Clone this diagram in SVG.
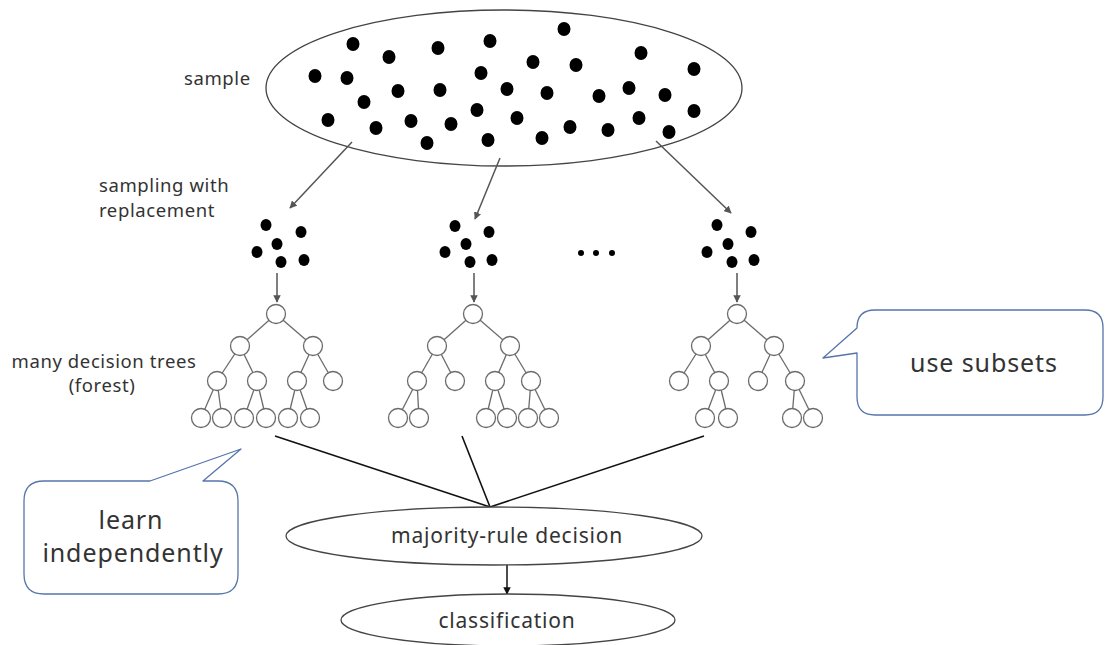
<svg xmlns="http://www.w3.org/2000/svg" width="1105" height="645" viewBox="0 0 1105 645">
  <style>
    .lbl { font-family: "Noto Sans", "Liberation Sans", sans-serif; fill: #333; }
    .side { font-size: 18.5px; letter-spacing: 0.6px; }
    .oval-t { font-size: 21px; letter-spacing: 0.8px; }
    .call-t { font-size: 25px; letter-spacing: 0.9px; }
    .dot { fill: #000; }
    .tn { fill: #fff; stroke: #6b6b6b; stroke-width: 1.3; }
    .te { stroke: #6b6b6b; stroke-width: 1.3; }
    .oval { fill: #fff; stroke: #444; stroke-width: 1.3; }
    .call { fill: #fff; stroke: #5675ab; stroke-width: 1.3; stroke-linejoin: round; }
    .garrow { stroke: #555; stroke-width: 1.5; fill: none; marker-end: url(#headG); }
    .karrow { stroke: #111; stroke-width: 1.5; fill: none; marker-end: url(#headK); }
    .vote { stroke: #111; stroke-width: 1.6; }
  </style>
  <defs>
    <marker id="headG" viewBox="0 0 10 10" refX="9" refY="5" markerWidth="5" markerHeight="5" orient="auto" markerUnits="strokeWidth">
      <path d="M0,0 L10,5 L0,10 z" fill="#555"/>
    </marker>
    <marker id="headK" viewBox="0 0 10 10" refX="9" refY="5" markerWidth="5" markerHeight="5" orient="auto" markerUnits="strokeWidth">
      <path d="M0,0 L10,5 L0,10 z" fill="#111"/>
    </marker>
  </defs>
  <rect width="1105" height="645" fill="#fff"/>

  <!-- full sample -->
  <g id="sample">
    <ellipse class="oval" cx="504" cy="88" rx="238" ry="78"/>
    <g class="dot">
      <ellipse cx="353" cy="44" rx="6.5" ry="7"/>
      <ellipse cx="389" cy="57" rx="6.5" ry="7"/>
      <ellipse cx="438" cy="48" rx="6.5" ry="7"/>
      <ellipse cx="490" cy="41" rx="6.5" ry="7"/>
      <ellipse cx="564" cy="29" rx="6.5" ry="7"/>
      <ellipse cx="641" cy="53" rx="6.5" ry="7"/>
      <ellipse cx="533" cy="62" rx="6.5" ry="7"/>
      <ellipse cx="576" cy="65" rx="6.5" ry="7"/>
      <ellipse cx="694" cy="69" rx="6.5" ry="7"/>
      <ellipse cx="315" cy="76" rx="6.5" ry="7"/>
      <ellipse cx="347" cy="78" rx="6.5" ry="7"/>
      <ellipse cx="481" cy="73" rx="6.5" ry="7"/>
      <ellipse cx="398" cy="91" rx="6.5" ry="7"/>
      <ellipse cx="440" cy="90" rx="6.5" ry="7"/>
      <ellipse cx="507" cy="89" rx="6.5" ry="7"/>
      <ellipse cx="547" cy="93" rx="6.5" ry="7"/>
      <ellipse cx="599" cy="96" rx="6.5" ry="7"/>
      <ellipse cx="629" cy="88" rx="6.5" ry="7"/>
      <ellipse cx="665" cy="95" rx="6.5" ry="7"/>
      <ellipse cx="364" cy="102" rx="6.5" ry="7"/>
      <ellipse cx="477" cy="110" rx="6.5" ry="7"/>
      <ellipse cx="694" cy="111" rx="6.5" ry="7"/>
      <ellipse cx="328" cy="120" rx="6.5" ry="7"/>
      <ellipse cx="376" cy="128" rx="6.5" ry="7"/>
      <ellipse cx="411" cy="121" rx="6.5" ry="7"/>
      <ellipse cx="451" cy="124" rx="6.5" ry="7"/>
      <ellipse cx="517" cy="118" rx="6.5" ry="7"/>
      <ellipse cx="570" cy="127" rx="6.5" ry="7"/>
      <ellipse cx="608" cy="130" rx="6.5" ry="7"/>
      <ellipse cx="639" cy="118" rx="6.5" ry="7"/>
      <ellipse cx="669" cy="132" rx="6.5" ry="7"/>
      <ellipse cx="427" cy="143" rx="6.5" ry="7"/>
      <ellipse cx="488" cy="140" rx="6.5" ry="7"/>
      <ellipse cx="542" cy="138" rx="6.5" ry="7"/>
    </g>
  </g>

  <!-- bootstrap subsets -->
  <g id="subset1" class="dot">
    <ellipse cx="266" cy="225" rx="5.5" ry="6"/>
    <ellipse cx="301" cy="232" rx="5.5" ry="6"/>
    <ellipse cx="277" cy="244" rx="5.5" ry="6"/>
    <ellipse cx="257" cy="252" rx="5.5" ry="6"/>
    <ellipse cx="281" cy="262" rx="5.5" ry="6"/>
    <ellipse cx="304" cy="260" rx="5.5" ry="6"/>
  </g>
  <g id="subset2" class="dot">
    <ellipse cx="455" cy="226" rx="5.5" ry="6"/>
    <ellipse cx="489" cy="232" rx="5.5" ry="6"/>
    <ellipse cx="466" cy="244" rx="5.5" ry="6"/>
    <ellipse cx="445" cy="252" rx="5.5" ry="6"/>
    <ellipse cx="470" cy="262" rx="5.5" ry="6"/>
    <ellipse cx="492" cy="260" rx="5.5" ry="6"/>
  </g>
  <g id="ellipsis" class="dot">
    <circle cx="581" cy="253" r="3"/>
    <circle cx="596" cy="253" r="3"/>
    <circle cx="612" cy="253" r="3"/>
  </g>
  <g id="subset3" class="dot">
    <ellipse cx="717" cy="225" rx="5.5" ry="6"/>
    <ellipse cx="751" cy="232" rx="5.5" ry="6"/>
    <ellipse cx="728" cy="244" rx="5.5" ry="6"/>
    <ellipse cx="707" cy="252" rx="5.5" ry="6"/>
    <ellipse cx="732" cy="262" rx="5.5" ry="6"/>
    <ellipse cx="754" cy="260" rx="5.5" ry="6"/>
  </g>

  <!-- decision trees -->
  <g id="tree1">
    <g class="te">
      <line x1="276" y1="314" x2="240" y2="346"/><line x1="276" y1="314" x2="313" y2="346"/>
      <line x1="240" y1="346" x2="217" y2="381"/><line x1="240" y1="346" x2="257" y2="381"/>
      <line x1="313" y1="346" x2="297" y2="381"/><line x1="313" y1="346" x2="333" y2="381"/>
      <line x1="217" y1="381" x2="201" y2="418"/><line x1="217" y1="381" x2="222" y2="418"/>
      <line x1="257" y1="381" x2="244" y2="418"/><line x1="257" y1="381" x2="266" y2="418"/>
      <line x1="297" y1="381" x2="288" y2="418"/><line x1="297" y1="381" x2="310" y2="418"/>
    </g>
    <g class="tn">
      <circle cx="276" cy="314" r="9.5"/>
      <circle cx="240" cy="346" r="9.5"/><circle cx="313" cy="346" r="9.5"/>
      <circle cx="217" cy="381" r="9.5"/><circle cx="257" cy="381" r="9.5"/><circle cx="297" cy="381" r="9.5"/><circle cx="333" cy="381" r="9.5"/>
      <circle cx="201" cy="418" r="9.5"/><circle cx="222" cy="418" r="9.5"/><circle cx="244" cy="418" r="9.5"/><circle cx="266" cy="418" r="9.5"/><circle cx="288" cy="418" r="9.5"/><circle cx="310" cy="418" r="9.5"/>
    </g>
  </g>
  <g id="tree2">
    <g class="te">
      <line x1="473" y1="314" x2="437" y2="346"/><line x1="473" y1="314" x2="510" y2="346"/>
      <line x1="437" y1="346" x2="417" y2="381"/><line x1="437" y1="346" x2="455" y2="381"/>
      <line x1="510" y1="346" x2="495" y2="381"/><line x1="510" y1="346" x2="531" y2="381"/>
      <line x1="417" y1="381" x2="398" y2="418"/><line x1="417" y1="381" x2="419" y2="418"/>
      <line x1="495" y1="381" x2="486" y2="418"/><line x1="495" y1="381" x2="507" y2="418"/>
      <line x1="531" y1="381" x2="528" y2="418"/><line x1="531" y1="381" x2="549" y2="418"/>
    </g>
    <g class="tn">
      <circle cx="473" cy="314" r="9.5"/>
      <circle cx="437" cy="346" r="9.5"/><circle cx="510" cy="346" r="9.5"/>
      <circle cx="417" cy="381" r="9.5"/><circle cx="455" cy="381" r="9.5"/><circle cx="495" cy="381" r="9.5"/><circle cx="531" cy="381" r="9.5"/>
      <circle cx="398" cy="418" r="9.5"/><circle cx="419" cy="418" r="9.5"/><circle cx="486" cy="418" r="9.5"/><circle cx="507" cy="418" r="9.5"/><circle cx="528" cy="418" r="9.5"/><circle cx="549" cy="418" r="9.5"/>
    </g>
  </g>
  <g id="tree3">
    <g class="te">
      <line x1="737" y1="314" x2="701" y2="346"/><line x1="737" y1="314" x2="774" y2="346"/>
      <line x1="701" y1="346" x2="679" y2="381"/><line x1="701" y1="346" x2="719" y2="381"/>
      <line x1="774" y1="346" x2="758" y2="381"/><line x1="774" y1="346" x2="795" y2="381"/>
      <line x1="719" y1="381" x2="705" y2="418"/><line x1="719" y1="381" x2="728" y2="418"/>
      <line x1="795" y1="381" x2="792" y2="418"/><line x1="795" y1="381" x2="813" y2="418"/>
    </g>
    <g class="tn">
      <circle cx="737" cy="314" r="9.5"/>
      <circle cx="701" cy="346" r="9.5"/><circle cx="774" cy="346" r="9.5"/>
      <circle cx="679" cy="381" r="9.5"/><circle cx="719" cy="381" r="9.5"/><circle cx="758" cy="381" r="9.5"/><circle cx="795" cy="381" r="9.5"/>
      <circle cx="705" cy="418" r="9.5"/><circle cx="728" cy="418" r="9.5"/><circle cx="792" cy="418" r="9.5"/><circle cx="813" cy="418" r="9.5"/>
    </g>
  </g>

  <!-- connectors -->
  <g id="connectors">
    <line class="garrow" x1="352" y1="142" x2="290" y2="208"/>
    <line class="garrow" x1="500" y1="158" x2="475" y2="219"/>
    <line class="garrow" x1="656" y1="141" x2="731" y2="213"/>
    <line class="garrow" x1="277" y1="273" x2="277" y2="302"/>
    <line class="garrow" x1="474" y1="273" x2="474" y2="302"/>
    <line class="garrow" x1="737" y1="273" x2="737" y2="302"/>
    <line class="vote" x1="275" y1="436" x2="490" y2="507"/>
    <line class="vote" x1="462" y1="436" x2="490" y2="507"/>
    <line class="vote" x1="704" y1="436" x2="490" y2="507"/>
    <line class="karrow" x1="507" y1="565" x2="507" y2="594"/>
  </g>

  <!-- aggregation -->
  <g id="majority">
    <ellipse class="oval" cx="494" cy="536" rx="208" ry="29"/>
    <text class="lbl oval-t" x="507" y="543" text-anchor="middle">majority-rule decision</text>
  </g>
  <g id="classification">
    <ellipse class="oval" cx="508" cy="620" rx="167" ry="26"/>
    <text class="lbl oval-t" x="507" y="628" text-anchor="middle">classification</text>
  </g>

  <!-- callouts -->
  <g id="callout-subsets">
    <path class="call" d="M875,310 H1085 Q1103,310 1103,328 V397 Q1103,415 1085,415 H875 Q857,415 857,397 V353 L823,358 L857,328 Q857,310 875,310 Z"/>
    <text class="lbl call-t" x="984" y="372" text-anchor="middle">use subsets</text>
  </g>
  <g id="callout-learn">
    <path class="call" d="M44,481 H150 L241,449 L203,481 H218 Q238,481 238,501 V574 Q238,594 218,594 H44 Q24,594 24,574 V501 Q24,481 44,481 Z"/>
    <text class="lbl call-t" x="131" y="529" text-anchor="middle">learn</text>
    <text class="lbl call-t" x="133" y="562" text-anchor="middle">independently</text>
  </g>

  <!-- side labels -->
  <g id="labels" class="lbl side">
    <text x="184" y="85">sample</text>
    <text x="99" y="192">sampling with</text>
    <text x="99" y="217">replacement</text>
    <text x="104" y="368" text-anchor="middle">many decision trees</text>
    <text x="102" y="392" text-anchor="middle">(forest)</text>
  </g>
</svg>
